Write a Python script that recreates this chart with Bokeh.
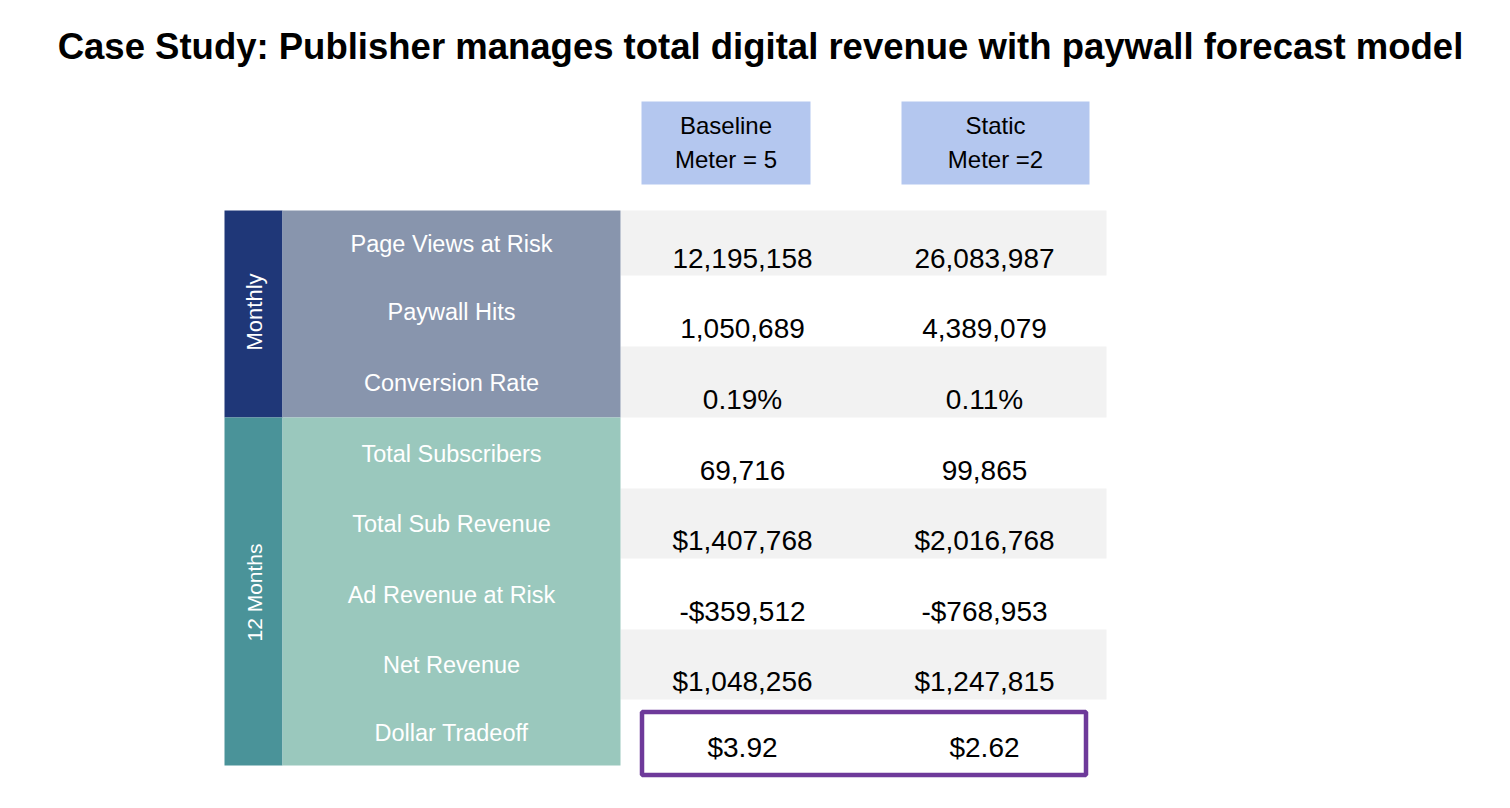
from bokeh.plotting import figure
from bokeh.models import Range1d
from bokeh.core.properties import value
from bokeh.embed import file_html
from bokeh.resources import INLINE
import math

# ---------------- data ----------------
title = "Case Study: Publisher manages total digital revenue with paywall forecast model"
scenario_names = ["Baseline", "Static"]
scenario_meters = ["Meter = 5", "Meter =2"]
metrics = ["Page Views at Risk", "Paywall Hits", "Conversion Rate", "Total Subscribers",
           "Total Sub Revenue", "Ad Revenue at Risk", "Net Revenue", "Dollar Tradeoff"]
baseline_values = ["12,195,158", "1,050,689", "0.19%", "69,716",
                   "$1,407,768", "-$359,512", "$1,048,256", "$3.92"]
static_values = ["26,083,987", "4,389,079", "0.11%", "99,865",
                 "$2,016,768", "-$768,953", "$1,247,815", "$2.62"]
groups = ["Monthly", "12 Months"]
group_sizes = [3, 5]

# ---------------- layout (pixel space) ----------------
row_edges = [210, 275, 346, 417, 488, 558, 629, 699, 765]
col_centers = [742, 984]
head_boxes = [(641, 810), (901, 1089)]
group_x = (224, 282)
label_x = (282, 620)
data_x = (620, 1106)
group_colors = ["#1F3778", "#4A9399"]
label_colors = ["#8895AD", "#9AC8BD"]
group_font_sizes = ["22px", "21px"]

FONT = "Liberation Sans"
DY = -9  # text baseline correction

p = figure(width=1494, height=792, output_backend="svg", toolbar_location=None,
           x_range=Range1d(0, 1494), y_range=Range1d(792, 0), min_border=0)
p.axis.visible = False
p.grid.visible = False
p.outline_line_color = None
p.background_fill_color = "white"
p.border_fill_color = "white"

# title
p.text(x=[760], y=[55 + DY], text=[title], text_align="center", text_baseline="alphabetic",
       text_font=value(FONT), text_font_style="bold", text_font_size="36.5px",
       text_color="black")

# header boxes
p.quad(left=[b[0] for b in head_boxes], right=[b[1] for b in head_boxes],
       top=[101] * 2, bottom=[184] * 2, fill_color="#B4C7EF", line_color=None)
hx = [(b[0] + b[1]) / 2 for b in head_boxes]
p.text(x=hx, y=[134 + DY] * 2, text=scenario_names, text_align="center", text_baseline="alphabetic",
       text_font=value(FONT), text_font_size="24px", text_color="black")
p.text(x=hx, y=[168 + DY] * 2, text=scenario_meters, text_align="center", text_baseline="alphabetic",
       text_font=value(FONT), text_font_size="24px", text_color="black")

# data stripes
stripe_idx = [i for i in range(len(metrics) - 1) if i % 2 == 0]
p.quad(left=[data_x[0]] * len(stripe_idx), right=[data_x[1]] * len(stripe_idx),
       top=[row_edges[i] for i in stripe_idx], bottom=[row_edges[i + 1] for i in stripe_idx],
       fill_color="#F2F2F2", line_color=None)

# group blocks
start = 0
for g, n, gc, lc, fs in zip(groups, group_sizes, group_colors, label_colors, group_font_sizes):
    top = row_edges[start]
    bottom = row_edges[start + n]
    p.quad(left=[group_x[0]], right=[group_x[1]], top=[top], bottom=[bottom],
           fill_color=gc, line_color=None)
    p.quad(left=[label_x[0]], right=[label_x[1]], top=[top], bottom=[bottom],
           fill_color=lc, line_color=None)
    p.text(x=[263 + DY], y=[(top + bottom) / 2 + (-2 if start == 0 else 1)], text=[g],
           angle=math.pi / 2, text_align="center", text_baseline="alphabetic",
           text_font=value(FONT), text_font_size=fs, text_color="white")
    start += n

centers = [(row_edges[i] + row_edges[i + 1]) / 2 for i in range(len(metrics))]
# metric labels
p.text(x=[(label_x[0] + label_x[1]) / 2] * len(metrics), y=[c + 9.5 + DY for c in centers],
       text=metrics, text_align="center", text_baseline="alphabetic",
       text_font=value(FONT), text_font_size="23.5px", text_color="white")

# values
for cx, vals in zip(col_centers, [baseline_values, static_values]):
    ys = [c + 26 + DY for c in centers]
    ys[0] -= 1.5
    ys[-1] -= 2
    p.text(x=[cx] * len(vals), y=ys, text=vals, text_align="center", text_baseline="alphabetic",
           text_font=value(FONT), text_font_size="28px", text_color="black")

# highlight box around last row
p.quad(left=[641.5], right=[1085.5], top=[711.5], bottom=[774.5], fill_color=None,
       line_color="#6E3A9A", line_width=4.5)

open("out.html", "w").write(file_html(p, INLINE))
